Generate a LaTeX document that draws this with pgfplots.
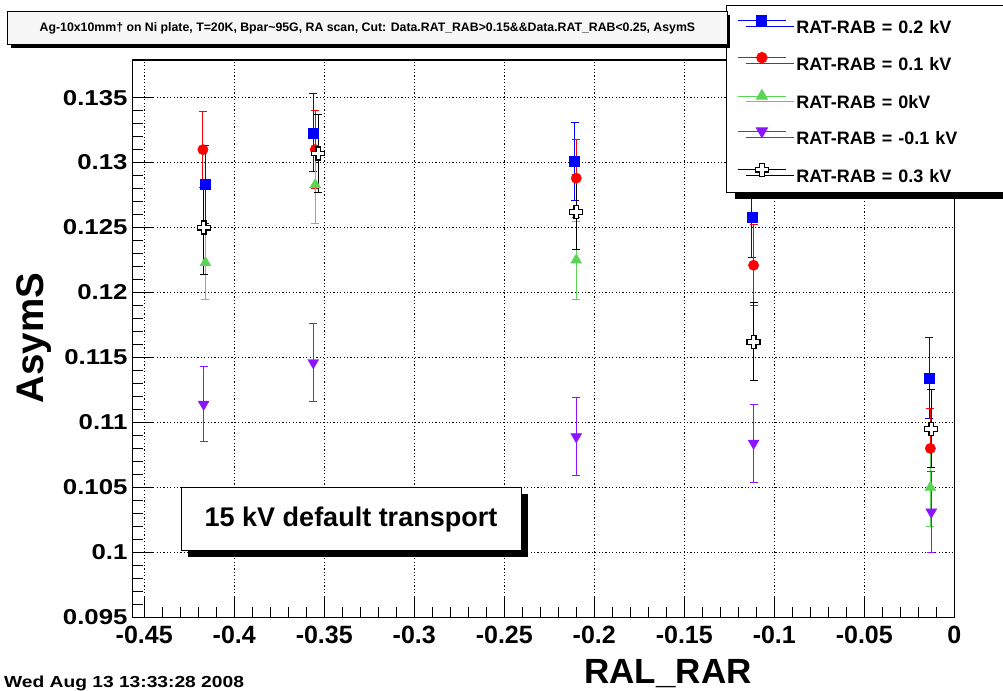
\documentclass[border=0pt]{standalone}
\usepackage{fontspec}
\setmainfont{Liberation Sans}
\newfontfamily\widefont[FakeStretch=1.2]{Liberation Sans}
\usepackage{pgfplots}
\pgfplotsset{compat=1.18}
\usetikzlibrary{shadows}

\definecolor{rblue}{RGB}{0,0,255}
\definecolor{rred}{RGB}{255,0,0}
\definecolor{rgreen}{RGB}{92,212,86}
\definecolor{rpurple}{RGB}{140,20,255}

% open cross marker (ROOT style 28)
\pgfdeclareplotmark{ocross}{%
  \pgfmathsetlengthmacro{\a}{0.36*\pgfplotmarksize}%
  \pgfpathmoveto{\pgfqpoint{-\a}{\pgfplotmarksize}}%
  \pgfpathlineto{\pgfqpoint{\a}{\pgfplotmarksize}}%
  \pgfpathlineto{\pgfqpoint{\a}{\a}}%
  \pgfpathlineto{\pgfqpoint{\pgfplotmarksize}{\a}}%
  \pgfpathlineto{\pgfqpoint{\pgfplotmarksize}{-\a}}%
  \pgfpathlineto{\pgfqpoint{\a}{-\a}}%
  \pgfpathlineto{\pgfqpoint{\a}{-\pgfplotmarksize}}%
  \pgfpathlineto{\pgfqpoint{-\a}{-\pgfplotmarksize}}%
  \pgfpathlineto{\pgfqpoint{-\a}{-\a}}%
  \pgfpathlineto{\pgfqpoint{-\pgfplotmarksize}{-\a}}%
  \pgfpathlineto{\pgfqpoint{-\pgfplotmarksize}{\a}}%
  \pgfpathlineto{\pgfqpoint{-\a}{\a}}%
  \pgfpathclose
  \pgfusepathqfillstroke}

\begin{document}
\begin{tikzpicture}[x=1bp,y=1bp]
\useasboundingbox (0,0) rectangle (1003,691);

\begin{axis}[
  scale only axis,
  width=821.6bp, height=557.3bp,
  at={(132.7bp,73.7bp)}, anchor=south west,
  xmin=-0.4564, xmax=0,
  ymin=0.095, ymax=0.1379,
  xtick={-0.45,-0.4,-0.35,-0.3,-0.25,-0.2,-0.15,-0.1,-0.05,0},
  xticklabels={-0.45,-0.4,-0.35,-0.3,-0.25,-0.2,-0.15,-0.1,-0.05,0},
  ytick={0.095,0.1,0.105,0.11,0.115,0.12,0.125,0.13,0.135},
  yticklabels={0.095,0.1,0.105,0.11,0.115,0.12,0.125,0.13,0.135},
  minor x tick num=4, minor y tick num=4,
  tick align=inside, xtick pos=bottom, ytick pos=left,
  major tick length=20bp, minor tick length=10bp,
  tick style={black, line width=1bp},
  axis line style={black, line width=1.3bp},
  grid=major,
  grid style={black, line width=0.8bp, dash pattern=on 1.2bp off 2.2bp},
  xticklabel style={font=\bfseries\fontsize{25bp}{28bp}\selectfont, inner sep=0pt, yshift=-9bp},
  yticklabel style={font=\widefont\bfseries\fontsize{21.5bp}{24bp}\selectfont, inner sep=0pt, xshift=-5bp},
  legend image code/.code={%
    \draw[#1, mark=none, line width=0.8bp] (0bp,6.5bp) -- (48bp,6.5bp);
    \draw[#1, only marks] plot coordinates {(24bp,6.5bp)};},
  legend style={at={(0.7221,1.0987)}, anchor=north west, draw=black, fill=white,
    line width=1bp, inner xsep=11bp, inner ysep=10bp,
    general shadow={fill=black, shadow xshift=8bp, shadow yshift=-6bp},
    font=\bfseries\fontsize{18bp}{20bp}\selectfont,
    nodes={inner sep=0pt, text height=13bp, text depth=0bp, text width=260bp, align=left},
    row sep=19bp, /tikz/column sep=10bp},
  legend cell align=left,
]

% RAT-RAB = 0.2 kV
\addplot[forget plot, only marks, color=rblue, mark=square*, mark size=5bp,
  mark options={fill=rblue, draw=rblue},
  error bars/.cd, y dir=both, y explicit,
  error bar style={line width=1bp, rblue},
  error mark options={rotate=90, mark size=4bp, line width=1bp, rblue}]
coordinates {
  (-0.4160,0.1283) +- (0,0.0030)
  (-0.3561,0.1323) +- (0,0.0030)
  (-0.2109,0.1301) +- (0,0.0030)
  (-0.1124,0.1258) +- (0,0.0031)
  (-0.0139,0.1134) +- (0,0.0031)
};

% RAT-RAB = 0.1 kV
\addplot[forget plot, only marks, color=rred, mark=*, mark size=5.2bp,
  mark options={fill=rred, draw=rred},
  error bars/.cd, y dir=both, y explicit,
  error bar style={line width=1bp, rred},
  error mark options={rotate=90, mark size=4bp, line width=1bp, rred}]
coordinates {
  (-0.4174,0.1310) +- (0,0.0029)
  (-0.3550,0.1310) +- (0,0.0030)
  (-0.2100,0.1288) +- (0,0.0030)
  (-0.1115,0.1221) +- (0,0.0031)
  (-0.0133,0.1080) +- (0,0.0031)
};

% RAT-RAB = 0 kV
\addplot[forget plot, only marks, color=rgreen, mark=triangle*, mark size=6.3bp,
  mark options={fill=rgreen, draw=rgreen},
  error bars/.cd, y dir=both, y explicit,
  error bar style={line width=1bp, rgreen},
  error mark options={rotate=90, mark size=4bp, line width=1bp, rgreen}]
coordinates {
  (-0.4160,0.1223) +- (0,0.0028)
  (-0.3550,0.1283) +- (0,0.0030)
  (-0.2100,0.1225) +- (0,0.0030)
  (-0.1115,0.1162) +- (0,0.0030)
  (-0.0133,0.1050) +- (0,0.0030)
};

% RAT-RAB = -0.1 kV
\addplot[forget plot, only marks, color=rpurple, mark=triangle*, mark size=6.3bp,
  mark options={rotate=180, fill=rpurple, draw=rpurple},
  error bars/.cd, y dir=both, y explicit,
  error bar style={line width=1bp, rpurple},
  error mark options={rotate=90, mark size=4bp, line width=1bp, rpurple}]
coordinates {
  (-0.4170,0.1114) +- (0,0.0029)
  (-0.3561,0.1146) +- (0,0.0030)
  (-0.2100,0.1089) +- (0,0.0030)
  (-0.1115,0.1084) +- (0,0.0030)
  (-0.0128,0.1031) +- (0,0.0031)
};

% RAT-RAB = 0.3 kV
\addplot[forget plot, only marks, color=black, mark=ocross, mark size=6.5bp,
  mark options={fill=white, draw=black, line width=1.2bp},
  error bars/.cd, y dir=both, y explicit,
  error bar style={line width=1bp, black},
  error mark options={rotate=90, mark size=4bp, line width=1bp, black}]
coordinates {
  (-0.4170,0.1250) +- (0,0.0036)
  (-0.3533,0.1307) +- (0,0.0030)
  (-0.2100,0.1262) +- (0,0.0029)
  (-0.1115,0.1162) +- (0,0.0030)
  (-0.0128,0.1095) +- (0,0.0030)
};

\addlegendimage{draw=rblue, mark=square*, mark size=5bp, mark options={fill=rblue, draw=rblue}}
\addlegendentry{RAT-RAB = 0.2 kV}
\addlegendimage{draw=rred, mark=*, mark size=5.2bp, mark options={fill=rred, draw=rred}}
\addlegendentry{RAT-RAB = 0.1 kV}
\addlegendimage{draw=rgreen, mark=triangle*, mark size=6.3bp, mark options={fill=rgreen, draw=rgreen}}
\addlegendentry{RAT-RAB = 0kV}
\addlegendimage{draw=rpurple, mark=triangle*, mark size=6.3bp, mark options={rotate=180, fill=rpurple, draw=rpurple}}
\addlegendentry{RAT-RAB = -0.1 kV}
\addlegendimage{draw=black, mark=ocross, mark size=6.5bp, mark options={fill=white, draw=black, line width=1.2bp}}
\addlegendentry{RAT-RAB = 0.3 kV}
\end{axis}

% title box
\node[draw=black, line width=1bp, fill=gray!6, minimum width=719bp, minimum height=33bp,
  inner sep=0pt, general shadow={fill=black, shadow xshift=3bp, shadow yshift=-3bp},
  font=\bfseries\fontsize{12.3bp}{14bp}\selectfont]
  at (367.5,662.5) {Ag-10x10mm† on Ni plate, T=20K, Bpar\textasciitilde95G, RA scan, Cut: Data.RAT\_RAB>0.15\&\&Data.RAT\_RAB<0.25, AsymS};

% text box
\node[draw=black, line width=1bp, fill=white, minimum width=340bp, minimum height=63bp,
  inner sep=0pt, general shadow={fill=black, shadow xshift=7bp, shadow yshift=-6bp},
  font=\bfseries\fontsize{27bp}{30bp}\selectfont]
  at (351,171.5) {15 kV default transport};

% axis titles
\node[rotate=90, font=\bfseries\fontsize{38.5bp}{40bp}\selectfont, anchor=base] at (43,353) {AsymS};
\node[font=\bfseries\fontsize{35bp}{38bp}\selectfont, anchor=base] at (668,7) {RAL\_RAR};

% date stamp
\node[font=\widefont\bfseries\fontsize{16bp}{18bp}\selectfont, anchor=base west, inner sep=0pt] at (4,3) {Wed Aug 13 13:33:28 2008};
\end{tikzpicture}
\end{document}
